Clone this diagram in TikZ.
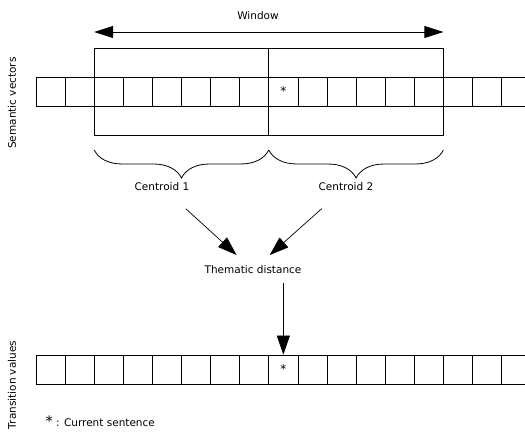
\documentclass[tikz,border=0pt]{standalone}
\usepackage{fontspec}
\setmainfont{DejaVu Sans}
\usetikzlibrary{arrows.meta,decorations.pathreplacing}

\begin{document}
\begin{tikzpicture}[x=1pt,y=-1pt,
  every node/.style={font=\fontsize{10.5}{12}\selectfont},
  cell/.style={draw,minimum width=29.1pt,minimum height=29pt,inner sep=0pt,line width=0.7pt},
  bigarrow/.style={-{Triangle[length=19pt,width=13pt]},line width=0.7pt},
  curly/.style={decorate,decoration={brace,amplitude=28pt},line width=0.8pt}]

\useasboundingbox (0,0) rectangle (525,435);

% rows of cells
\foreach \i in {0,...,16}{
  \node[cell] (v\i) at (50.55+29.1*\i,91.5) {\ifnum\i=8 \large *\fi};
  \node[cell] (t\i) at (50.55+29.1*\i,369.5) {\ifnum\i=8 \large *\fi};
}

% window
\draw[line width=0.8pt] (94.2,48) rectangle (443.4,135);
\draw[line width=0.8pt] (268.8,48) -- (268.8,135);
\coordinate (wl) at (94.2,32);
\coordinate (wr) at (443.4,32);
\draw[{Triangle[length=19pt,width=12pt]}-{Triangle[length=19pt,width=12pt]},line width=0.7pt] (wl) -- (wr);
\node (win) at (258,16) {Window};

% centroids
\draw[curly] (268.8,150) -- (94.2,150);
\draw[curly] (443.4,150) -- (268.8,150);
\node (cen1) at (162,187) {Centroid 1};
\node (cen2) at (346,187) {Centroid 2};

\node (them) at (253,270) {Thematic distance};
\draw[bigarrow,shorten <=21pt,shorten >=11pt] (cen1) -- (them);
\draw[bigarrow,shorten <=21pt,shorten >=11pt] (cen2) -- (them);
\draw[bigarrow,shorten <=5pt] (them.south -| t8.north) -- (t8.north);

% side labels
\node[rotate=90] (sem) at (12,103) {Semantic vectors};
\node[rotate=90] (trans) at (12,385) {Transition values};

\node[anchor=west] (note) at (42,421) {{\Large *} : Current sentence};

\end{tikzpicture}
\end{document}
